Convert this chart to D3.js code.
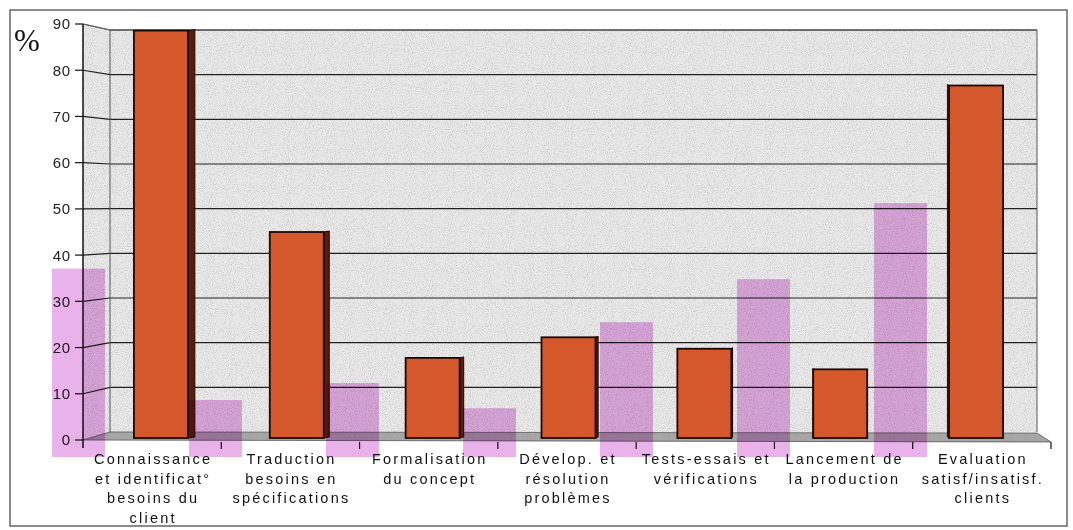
<!DOCTYPE html>
<html><head><meta charset="utf-8">
<script src="https://cdn.jsdelivr.net/npm/d3@7/dist/d3.min.js"></script>
<style>
html,body{margin:0;padding:0;background:#fff;}
svg{display:block;}
</style></head>
<body>
<svg id="chart" width="1073" height="530"></svg>
<script>
// ---- data ----
const categories = [
  ["Connaissance","et identificat°","besoins du","client"],
  ["Traduction","besoins en","spécifications"],
  ["Formalisation","du concept"],
  ["Dévelop. et","résolution","problèmes"],
  ["Tests-essais et","vérifications"],
  ["Lancement de","la production"],
  ["Evaluation","satisf/insatisf.","clients"]
];
const catKeys = categories.map((c,i)=>"c"+i);
const seriesA = [89, 45, 17.5, 22, 19.5, 15, 77];      // orange 3D bars
const seriesB = [37, 8.3, 12, 6.5, 25.3, 34.7, 51.3];  // pink overlay bars
const yTicks = [0,10,20,30,40,50,60,70,80,90];

// ---- layout ----
const svg = d3.select("#chart");
const defs = svg.append("defs");
const f = defs.append("filter").attr("id","noise").attr("x",0).attr("y",0).attr("width","100%").attr("height","100%");
f.append("feTurbulence").attr("type","fractalNoise").attr("baseFrequency",0.95).attr("numOctaves",2).attr("seed",3).attr("result","t");
f.append("feColorMatrix").attr("in","t").attr("type","matrix")
  .attr("values","0 0 0 0 0.3  0 0 0 0 0.3  0 0 0 0 0.3  3 0 0 0 -1.4");
f.append("feComposite").attr("in2","SourceGraphic").attr("operator","in");

// outer frame
svg.append("rect").attr("x",10).attr("y",10).attr("width",1057).attr("height",516)
  .attr("fill","none").attr("stroke","#666").attr("stroke-width",1.5);

const yFront = d3.scaleLinear().domain([0,90]).range([440,24]);
const yBack  = d3.scaleLinear().domain([0,90]).range([432,30]);
const yBar   = d3.scaleLinear().domain([0,90]).range([438,26]);
const xFront = d3.scaleBand().domain(catKeys).range([83,1051]);
const xBar   = d3.scaleBand().domain(catKeys).range([93,1044]);
const xPink  = d3.scaleBand().domain(catKeys).range([10,969]);
const backL = 110, backR = 1037, frontL = 83, frontR = 1051;

// walls
const wallFill = "#e9e9e9";
const wallPath = `M${backL},${yBack(90)}H${backR}V${yBack(0)}H${backL}Z`;
const leftPath = `M${frontL},${yFront(90)}L${backL},${yBack(90)}V${yBack(0)}L${frontL},${yFront(0)}Z`;
const floorPath = `M${frontL},${yFront(0)}L${backL},${yBack(0)}L${backR},${yBack(0)+1}L${frontR},${yFront(0)+2}Z`;
[wallPath,leftPath].forEach(p=>{
  svg.append("path").attr("d",p).attr("fill",wallFill);
  svg.append("path").attr("d",p).attr("fill","#000").attr("filter","url(#noise)").attr("opacity",0.35);
});
svg.append("path").attr("d",floorPath).attr("fill","#a8a8a8");
svg.append("path").attr("d",floorPath).attr("fill","#000").attr("filter","url(#noise)").attr("opacity",0.6);

// grid lines
const grid = svg.append("g").attr("stroke","#222").attr("stroke-width",1.2).attr("fill","none");
yTicks.filter(t=>t>0).forEach(t=>{
  grid.append("path").attr("d",`M${frontL},${yFront(t)}L${backL},${yBack(t)}H${backR}`);
});
// wall edges
svg.append("path").attr("d",`M${backL},${yBack(0)}V${yBack(90)}H${backR}V${yBack(0)}`)
  .attr("fill","none").attr("stroke","#555").attr("stroke-width",1);
svg.append("path").attr("d",`M${frontL},${yFront(90)}L${backL},${yBack(90)}`)
  .attr("fill","none").attr("stroke","#777").attr("stroke-width",0.8);
svg.append("path").attr("d",floorPath).attr("fill","none").attr("stroke","#555").attr("stroke-width",0.8);

// front axis
svg.append("line").attr("x1",frontL).attr("x2",frontL).attr("y1",yFront(90)).attr("y2",yFront(0)+8)
  .attr("stroke","#111").attr("stroke-width",1.5);
const yAxisG = svg.append("g");
yTicks.forEach(t=>{
  yAxisG.append("line").attr("x1",frontL-8).attr("x2",frontL).attr("y1",yFront(t)).attr("y2",yFront(t))
    .attr("stroke","#111").attr("stroke-width",1.2);
  yAxisG.append("text").attr("x",frontL-12).attr("y",yFront(t)).attr("dy","0.36em")
    .attr("text-anchor","end").attr("font-family","Liberation Sans, Arial, sans-serif")
    .attr("font-size",15).attr("letter-spacing","0.8px").attr("fill","#222").text(t);
});
// category ticks on floor front edge
catKeys.forEach((k,i)=>{
  const x = xFront(k)+xFront.bandwidth();
  svg.append("line").attr("x1",x).attr("x2",x).attr("y1",yFront(0)+2).attr("y2",yFront(0)+9)
    .attr("stroke","#111").attr("stroke-width",1.2);
});

// orange 3D bars
const vp = 820, k3 = 0.0105, bw = 54;
const bars = svg.append("g");
seriesA.forEach((v,i)=>{
  const cx = xBar(catKeys[i]) + xBar.bandwidth()/2;
  const x0 = cx - bw/2, x1 = cx + bw/2;
  const yt = yBar(v), yb = yBar(0);
  const s = (vp - cx)*k3;
  if (s > 0) {
    bars.append("path").attr("d",`M${x1},${yt}L${x1+s},${yt-1}L${x1+s},${yb-1}L${x1},${yb}Z`)
      .attr("fill","#5a1d0c").attr("stroke","#1a0a05").attr("stroke-width",1);
  } else {
    bars.append("path").attr("d",`M${x0},${yt}L${x0+s},${yt-1}L${x0+s},${yb-1}L${x0},${yb}Z`)
      .attr("fill","#e0703c").attr("stroke","#1a0a05").attr("stroke-width",1);
  }
  bars.append("rect").attr("x",x0).attr("y",yt).attr("width",bw).attr("height",yb-yt)
    .attr("fill","#d4582c").attr("stroke","#1a0a05").attr("stroke-width",1.8);
});

// category labels
const labels = svg.append("g").attr("font-family","Liberation Sans, Arial, sans-serif")
  .attr("font-size",14.5).attr("fill","#111").attr("text-anchor","middle");
categories.forEach((lines,i)=>{
  const cx = xFront(catKeys[i]) + xFront.bandwidth()/2 + 1;
  lines.forEach((ln,j)=>{
    labels.append("text").attr("x",cx).attr("y",464 + j*19.6)
      .attr("letter-spacing","2.2px").text(ln);
  });
});

// "%" label
svg.append("text").attr("x",14).attr("y",51).attr("font-family","Liberation Serif, Times New Roman, serif")
  .attr("font-size",31).attr("fill","#111").text("%");

// pink overlay bars (multiplied)
const pinkOffset = 19, pw = 53;
const pink = svg.append("g");
seriesB.forEach((v,i)=>{
  const cx = xPink(catKeys[i]) + xPink.bandwidth()/2;
  const yt = yBar(v);
  pink.append("rect").attr("x",cx-pw/2).attr("y",yt).attr("width",pw).attr("height",yBar(0)+pinkOffset-yt)
    .attr("fill","#e9b2ea").style("mix-blend-mode","multiply");
});
</script>
</body></html>
